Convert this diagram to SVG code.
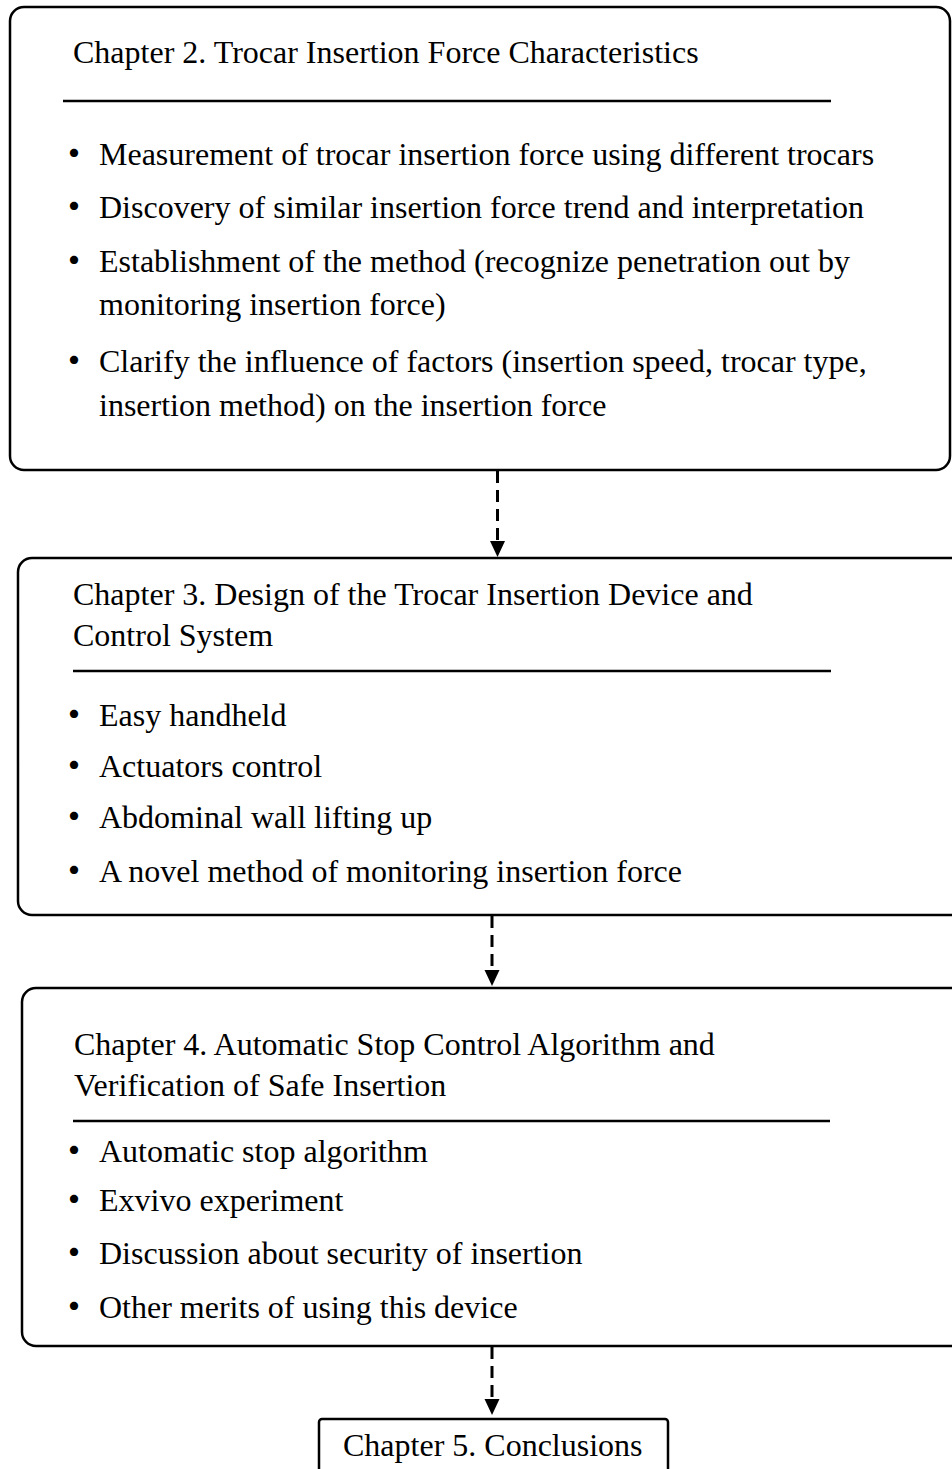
<svg xmlns="http://www.w3.org/2000/svg" width="952" height="1469" viewBox="0 0 952 1469">
<style>
.box{fill:#fff;stroke:#000;stroke-width:2.5}
.rule{stroke:#000;stroke-width:2.5}
.t{font-family:"Liberation Serif","Times New Roman",serif;font-size:32px;fill:#000}
.b{font-family:"Noto Sans CJK JP","Liberation Serif",sans-serif;font-size:32px;font-weight:bold;fill:#000}
.dash{stroke:#000;stroke-width:3;stroke-dasharray:12 7;fill:none}
.head{fill:#000}
</style>
<rect width="952" height="1469" fill="#fff"/>
<g id="connectors">
<line class="dash" x1="497.5" y1="471" x2="497.5" y2="543"/>
<polygon class="head" points="490,541 505,541 497.5,557"/>
<line class="dash" x1="492" y1="916" x2="492" y2="972"/>
<polygon class="head" points="484.5,970 499.5,970 492,986"/>
<line class="dash" x1="492" y1="1347" x2="492" y2="1400"/>
<polygon class="head" points="484.5,1399 499.5,1399 492,1415"/>
</g>
<g id="chapter2">
<rect class="box" x="10" y="7" width="940" height="463" rx="14"/>
<text class="t" x="73" y="63">Chapter 2. Trocar Insertion Force Characteristics</text>
<line class="rule" x1="63" y1="101" x2="831" y2="101"/>
<text class="b" x="58" y="165">・</text>
<text class="t" x="99" y="165">Measurement of trocar insertion force using different trocars</text>
<text class="b" x="58" y="218">・</text>
<text class="t" x="99" y="218">Discovery of similar insertion force trend and interpretation</text>
<text class="b" x="58" y="272">・</text>
<text class="t" x="99" y="272">Establishment of the method (recognize penetration out by</text>
<text class="t" x="99" y="315">monitoring insertion force)</text>
<text class="b" x="58" y="372">・</text>
<text class="t" x="99" y="372">Clarify the influence of factors (insertion speed, trocar type,</text>
<text class="t" x="99" y="416">insertion method) on the insertion force</text>
</g>
<g id="chapter3">
<rect class="box" x="18" y="558" width="950" height="357" rx="14"/>
<text class="t" x="73" y="605">Chapter 3. Design of the Trocar Insertion Device and</text>
<text class="t" x="73" y="646">Control System</text>
<line class="rule" x1="73" y1="671" x2="831" y2="671"/>
<text class="b" x="58" y="726">・</text>
<text class="t" x="99" y="726">Easy handheld</text>
<text class="b" x="58" y="777">・</text>
<text class="t" x="99" y="777">Actuators control</text>
<text class="b" x="58" y="828">・</text>
<text class="t" x="99" y="828">Abdominal wall lifting up</text>
<text class="b" x="58" y="882">・</text>
<text class="t" x="99" y="882">A novel method of monitoring insertion force</text>
</g>
<g id="chapter4">
<rect class="box" x="22" y="988" width="950" height="358" rx="14"/>
<text class="t" x="74" y="1055">Chapter 4. Automatic Stop Control Algorithm and</text>
<text class="t" x="74" y="1096">Verification of Safe Insertion</text>
<line class="rule" x1="73" y1="1121" x2="830" y2="1121"/>
<text class="b" x="58" y="1162">・</text>
<text class="t" x="99" y="1162">Automatic stop algorithm</text>
<text class="b" x="58" y="1211">・</text>
<text class="t" x="99" y="1211">Exvivo experiment</text>
<text class="b" x="58" y="1264">・</text>
<text class="t" x="99" y="1264">Discussion about security of insertion</text>
<text class="b" x="58" y="1318">・</text>
<text class="t" x="99" y="1318">Other merits of using this device</text>
</g>
<g id="chapter5">
<rect class="box" x="319" y="1419" width="349" height="70" rx="3"/>
<text class="t" x="343" y="1456">Chapter 5. Conclusions</text>
</g>
</svg>
